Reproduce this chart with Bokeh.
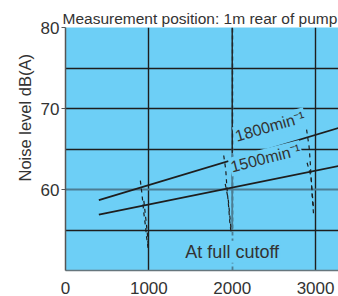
from bokeh.plotting import figure
from bokeh.models import FixedTicker, Grid, Label, Range1d, Title
from bokeh.embed import file_html
from bokeh.resources import INLINE

# ---- data ----
x_ticks = [0, 1000, 2000, 3000]
y_ticks = [60, 70, 80]
y_minor = [55, 65, 75]

rpm_1800 = [400, 3275]
noise_1800 = [58.7, 67.6]
rpm_1500 = [400, 3275]
noise_1500 = [56.9, 62.9]

cut_xs = [
    [898, 918, 928, 942, 958, 972, 990],
    [940, 958, 972, 986, 994],
    [1898, 1922, 1934, 1946, 1958, 1970, 1988],
    [1916, 1952, 1970, 1988],
    [2892, 2922, 2934, 2946, 2958, 2976],
    [2898, 2946, 2958, 2976],
]
cut_ys = [
    [61.1, 59.4, 58.3, 56.9, 55.6, 54.2, 52.8],
    [58.6, 56.9, 55.6, 54.1, 52.8],
    [64.2, 62.5, 60.6, 59.1, 57.8, 56.1, 54.5],
    [60.7, 58.8, 56.9, 54.8],
    [67.4, 65.3, 63.7, 61.5, 59.4, 56.9],
    [63.3, 61.6, 59.8, 57.5],
]

title_text = "Measurement position: 1m rear of pump"
y_label = "Noise level dB(A)"
label_1800 = "1800min\u207b\u00b9"
label_1500 = "1500min\u207b\u00b9"
label_cut = "At full cutoff"

BG = "#6dcff6"
DARK = "#1e1e1e"
GRAYLINE = "#4c7d93"
FONT = "Liberation Sans"

p = figure(width=338, height=296, output_backend="svg", toolbar_location=None,
           x_range=Range1d(0, 3275), y_range=Range1d(50, 80),
           min_border_left=65, min_border_right=0, min_border_top=27,
           min_border_bottom=24)
p.outline_line_color = None
p.background_fill_color = BG
p.border_fill_color = "white"

p.title.text = title_text
p.title.text_font = FONT
p.title.text_font_size = "15.5px"
p.title.text_font_style = "normal"
p.title.text_color = "#333333"
p.title.offset = -3
p.title.standoff = 2

# y axis title as a left-side title so it can sit off-centre like the original
p.add_layout(Title(text=y_label, align="left", offset=89, text_font=FONT,
                   text_font_size="16.5px", text_font_style="normal",
                   text_color="#333333", standoff=8), "left")

# axes
p.xaxis.ticker = FixedTicker(ticks=x_ticks)
p.yaxis.ticker = FixedTicker(ticks=y_ticks, minor_ticks=y_minor)
for ax in (p.xaxis[0], p.yaxis[0]):
    ax.major_label_text_font = FONT
    ax.major_label_text_font_size = "17px"
    ax.major_label_text_color = "#333333"
    ax.minor_tick_line_color = None
p.xaxis.major_tick_line_color = None
p.xaxis.major_label_standoff = 5
p.xaxis.axis_line_color = "#66767d"
p.xaxis.axis_line_width = 1.5
p.yaxis.axis_line_color = "#555555"
p.yaxis.axis_line_width = 1.5
p.yaxis.major_tick_line_color = "#555555"
p.yaxis.major_tick_out = 4
p.yaxis.major_tick_in = 0
p.yaxis.major_label_standoff = 2

# grids
p.xgrid.ticker = FixedTicker(ticks=[1000, 3000])
p.xgrid.grid_line_color = DARK
p.xgrid.grid_line_width = 1.4
p.ygrid.ticker = FixedTicker(ticks=[55, 65, 70, 75])
p.ygrid.grid_line_color = DARK
p.ygrid.grid_line_width = 1.4
g60 = Grid(dimension=1, ticker=FixedTicker(ticks=[60]),
           grid_line_color=GRAYLINE, grid_line_width=2)
p.add_layout(g60)
g2000 = Grid(dimension=0, ticker=FixedTicker(ticks=[2000]),
             grid_line_color=GRAYLINE, grid_line_width=1.8, grid_line_dash="4 3")
p.add_layout(g2000)
p.segment(x0=[2000], y0=[55], x1=[2000], y1=[64.5], line_color=GRAYLINE, line_width=1.8)
p.segment(x0=[2000], y0=[64.5], x1=[2000], y1=[80], line_color=DARK, line_width=1.4)

# data
p.line(rpm_1800, noise_1800, line_color=DARK, line_width=1.8)
p.line(rpm_1500, noise_1500, line_color=DARK, line_width=1.8)
p.multi_line(cut_xs, cut_ys, line_color=DARK, line_width=1.2, line_dash="4 4")

# labels
lab_kw = dict(text_font=FONT, text_color="#333333", background_fill_color=BG,
              text_baseline="bottom", text_align="left", padding=1)
p.add_layout(Label(x=2060, y=65.4, text=label_1800, angle=0.28,
                   text_font_size="16px", **lab_kw))
p.add_layout(Label(x=2000, y=61.6, text=label_1500, angle=0.25,
                   text_font_size="16px", **lab_kw))
p.add_layout(Label(x=2000, y=52.3, text=label_cut, text_font=FONT,
                   text_font_size="18px", text_color="#333333",
                   text_align="center", text_baseline="middle",
                   background_fill_color=BG, padding=1))

open("out.html", "w").write(file_html(p, INLINE))
